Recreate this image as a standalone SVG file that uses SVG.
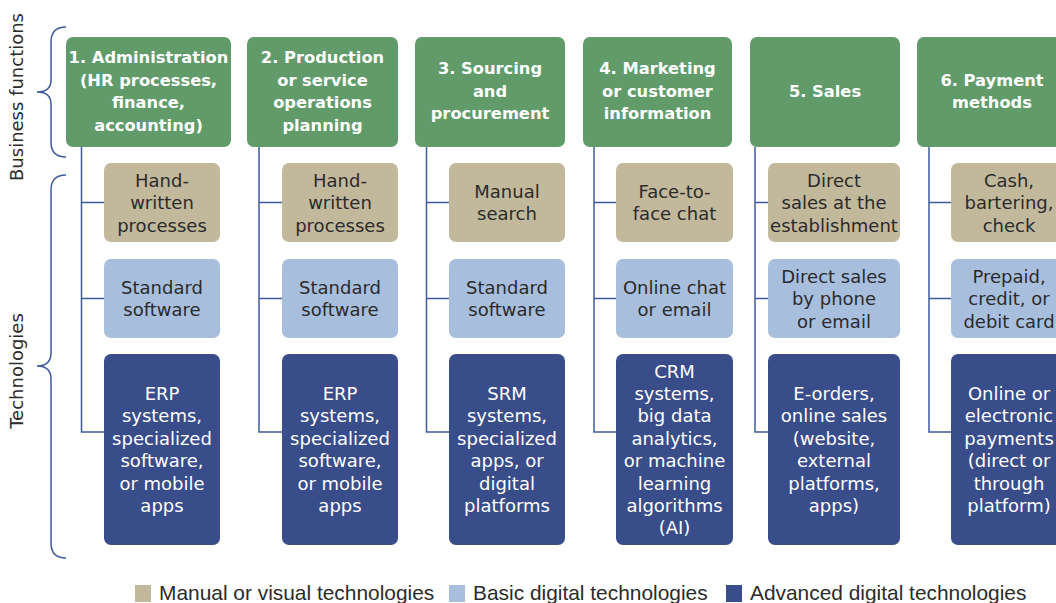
<svg xmlns="http://www.w3.org/2000/svg" width="1056" height="603" viewBox="0 0 1056 603">
<style>
.hdr{fill:#619b6a}
.tan{fill:#c2b89b}
.lb{fill:#a8bedd}
.dk{fill:#384d89}
.ht{font-family:"DejaVu Sans",sans-serif;font-weight:bold;font-size:16.3px;fill:#fff;text-anchor:middle}
.t{font-family:"DejaVu Sans",sans-serif;font-size:18px;fill:#2b2b2b;text-anchor:middle}
.tw{font-family:"DejaVu Sans",sans-serif;font-size:18px;fill:#fff;text-anchor:middle}
.side{font-family:"DejaVu Sans",sans-serif;font-size:18px;fill:#2b2b2b;text-anchor:middle}
.leg{font-family:"Liberation Sans",Arial,sans-serif;font-size:20.9px;fill:#2b2b2b}
.ln{fill:none;stroke:#3f5a9c;stroke-width:1.5}
</style>
<rect width="1056" height="603" fill="#fff"/>

<g id="side-labels">
<text class="side" transform="translate(23,97) rotate(-90)">Business functions</text>
<text class="side" transform="translate(23,371) rotate(-90)">Technologies</text>
<path class="ln" d="M66,27 Q51,27 51,42 L51,80 Q51,92 37,92 Q51,92 51,104 L51,142 Q51,157 66,157"/>
<path class="ln" d="M66,175 Q51,175 51,190 L51,353 Q51,366 37,366 Q51,366 51,379 L51,543 Q51,558 66,558"/>
</g>

<g id="connectors">
<path class="ln" d="M81.5,147 V432 H104 M81.5,202.5 H104 M81.5,298.5 H104"/>
<path class="ln" d="M259,147 V432 H282 M259,202.5 H282 M259,298.5 H282"/>
<path class="ln" d="M426.5,147 V432 H449 M426.5,202.5 H449 M426.5,298.5 H449"/>
<path class="ln" d="M594,147 V432 H616 M594,202.5 H616 M594,298.5 H616"/>
<path class="ln" d="M755,147 V432 H768 M755,202.5 H768 M755,298.5 H768"/>
<path class="ln" d="M929,147 V432 H951 M929,202.5 H951 M929,298.5 H951"/>
</g>

<g id="col1">
<rect class="hdr" x="66" y="37" width="165" height="110" rx="7"/>
<text class="ht"><tspan x="148.5" y="63">1. Administration</tspan><tspan x="148.5" y="85.5">(HR processes,</tspan><tspan x="148.5" y="108">finance,</tspan><tspan x="148.5" y="130.5">accounting)</tspan></text>
<rect class="tan" x="104" y="163" width="116" height="79" rx="7"/>
<text class="t"><tspan x="162" y="186.5">Hand-</tspan><tspan x="162" y="209">written</tspan><tspan x="162" y="231.5">processes</tspan></text>
<rect class="lb" x="104" y="259" width="116" height="79" rx="7"/>
<text class="t"><tspan x="162" y="293.5">Standard</tspan><tspan x="162" y="316">software</tspan></text>
<rect class="dk" x="104" y="354" width="116" height="191" rx="7"/>
<text class="tw"><tspan x="162" y="400">ERP</tspan><tspan x="162" y="422.4">systems,</tspan><tspan x="162" y="444.8">specialized</tspan><tspan x="162" y="467.2">software,</tspan><tspan x="162" y="489.6">or mobile</tspan><tspan x="162" y="512">apps</tspan></text>
</g>

<g id="col2">
<rect class="hdr" x="247" y="37" width="151" height="110" rx="7"/>
<text class="ht"><tspan x="322.5" y="63">2. Production</tspan><tspan x="322.5" y="85.5">or service</tspan><tspan x="322.5" y="108">operations</tspan><tspan x="322.5" y="130.5">planning</tspan></text>
<rect class="tan" x="282" y="163" width="116" height="79" rx="7"/>
<text class="t"><tspan x="340" y="186.5">Hand-</tspan><tspan x="340" y="209">written</tspan><tspan x="340" y="231.5">processes</tspan></text>
<rect class="lb" x="282" y="259" width="116" height="79" rx="7"/>
<text class="t"><tspan x="340" y="293.5">Standard</tspan><tspan x="340" y="316">software</tspan></text>
<rect class="dk" x="282" y="354" width="116" height="191" rx="7"/>
<text class="tw"><tspan x="340" y="400">ERP</tspan><tspan x="340" y="422.4">systems,</tspan><tspan x="340" y="444.8">specialized</tspan><tspan x="340" y="467.2">software,</tspan><tspan x="340" y="489.6">or mobile</tspan><tspan x="340" y="512">apps</tspan></text>
</g>

<g id="col3">
<rect class="hdr" x="415" y="37" width="150" height="110" rx="7"/>
<text class="ht"><tspan x="490" y="74">3. Sourcing</tspan><tspan x="490" y="96.5">and</tspan><tspan x="490" y="119">procurement</tspan></text>
<rect class="tan" x="449" y="163" width="116" height="79" rx="7"/>
<text class="t"><tspan x="507" y="197.5">Manual</tspan><tspan x="507" y="220">search</tspan></text>
<rect class="lb" x="449" y="259" width="116" height="79" rx="7"/>
<text class="t"><tspan x="507" y="293.5">Standard</tspan><tspan x="507" y="316">software</tspan></text>
<rect class="dk" x="449" y="354" width="116" height="191" rx="7"/>
<text class="tw"><tspan x="507" y="400">SRM</tspan><tspan x="507" y="422.4">systems,</tspan><tspan x="507" y="444.8">specialized</tspan><tspan x="507" y="467.2">apps, or</tspan><tspan x="507" y="489.6">digital</tspan><tspan x="507" y="512">platforms</tspan></text>
</g>

<g id="col4">
<rect class="hdr" x="583" y="37" width="149" height="110" rx="7"/>
<text class="ht"><tspan x="657.5" y="74">4. Marketing</tspan><tspan x="657.5" y="96.5">or customer</tspan><tspan x="657.5" y="119">information</tspan></text>
<rect class="tan" x="616" y="163" width="117" height="79" rx="7"/>
<text class="t"><tspan x="674.5" y="197.5">Face-to-</tspan><tspan x="674.5" y="220">face chat</tspan></text>
<rect class="lb" x="616" y="259" width="117" height="79" rx="7"/>
<text class="t"><tspan x="674.5" y="293.5">Online chat</tspan><tspan x="674.5" y="316">or email</tspan></text>
<rect class="dk" x="616" y="354" width="117" height="191" rx="7"/>
<text class="tw"><tspan x="674.5" y="377.5">CRM</tspan><tspan x="674.5" y="399.9">systems,</tspan><tspan x="674.5" y="422.3">big data</tspan><tspan x="674.5" y="444.7">analytics,</tspan><tspan x="674.5" y="467.1">or machine</tspan><tspan x="674.5" y="489.5">learning</tspan><tspan x="674.5" y="511.9">algorithms</tspan><tspan x="674.5" y="534.3">(AI)</tspan></text>
</g>

<g id="col5">
<rect class="hdr" x="750" y="37" width="150" height="110" rx="7"/>
<text class="ht"><tspan x="825" y="97">5. Sales</tspan></text>
<rect class="tan" x="768" y="163" width="132" height="79" rx="7"/>
<text class="t"><tspan x="834" y="186.5">Direct</tspan><tspan x="834" y="209">sales at the</tspan><tspan x="834" y="231.5">establishment</tspan></text>
<rect class="lb" x="768" y="259" width="132" height="79" rx="7"/>
<text class="t"><tspan x="834" y="282.5">Direct sales</tspan><tspan x="834" y="305">by phone</tspan><tspan x="834" y="327.5">or email</tspan></text>
<rect class="dk" x="768" y="354" width="132" height="191" rx="7"/>
<text class="tw"><tspan x="834" y="400">E-orders,</tspan><tspan x="834" y="422.4">online sales</tspan><tspan x="834" y="444.8">(website,</tspan><tspan x="834" y="467.2">external</tspan><tspan x="834" y="489.6">platforms,</tspan><tspan x="834" y="512">apps)</tspan></text>
</g>

<g id="col6">
<rect class="hdr" x="917" y="37" width="150" height="110" rx="7"/>
<text class="ht"><tspan x="992" y="85.5">6. Payment</tspan><tspan x="992" y="108">methods</tspan></text>
<rect class="tan" x="951" y="163" width="116" height="79" rx="7"/>
<text class="t"><tspan x="1009" y="186.5">Cash,</tspan><tspan x="1009" y="209">bartering,</tspan><tspan x="1009" y="231.5">check</tspan></text>
<rect class="lb" x="951" y="259" width="116" height="79" rx="7"/>
<text class="t"><tspan x="1009" y="282.5">Prepaid,</tspan><tspan x="1009" y="305">credit, or</tspan><tspan x="1009" y="327.5">debit card</tspan></text>
<rect class="dk" x="951" y="354" width="116" height="191" rx="7"/>
<text class="tw"><tspan x="1009" y="400">Online or</tspan><tspan x="1009" y="422.4">electronic</tspan><tspan x="1009" y="444.8">payments</tspan><tspan x="1009" y="467.2">(direct or</tspan><tspan x="1009" y="489.6">through</tspan><tspan x="1009" y="512">platform)</tspan></text>
</g>

<g id="legend">
<rect class="tan" x="135" y="585" width="16" height="17"/>
<text class="leg" x="159" y="600">Manual or visual technologies</text>
<rect class="lb" x="449" y="585" width="16" height="17"/>
<text class="leg" x="473" y="600">Basic digital technologies</text>
<rect class="dk" x="726" y="585" width="16" height="17"/>
<text class="leg" x="750" y="600">Advanced digital technologies</text>
</g>
</svg>
